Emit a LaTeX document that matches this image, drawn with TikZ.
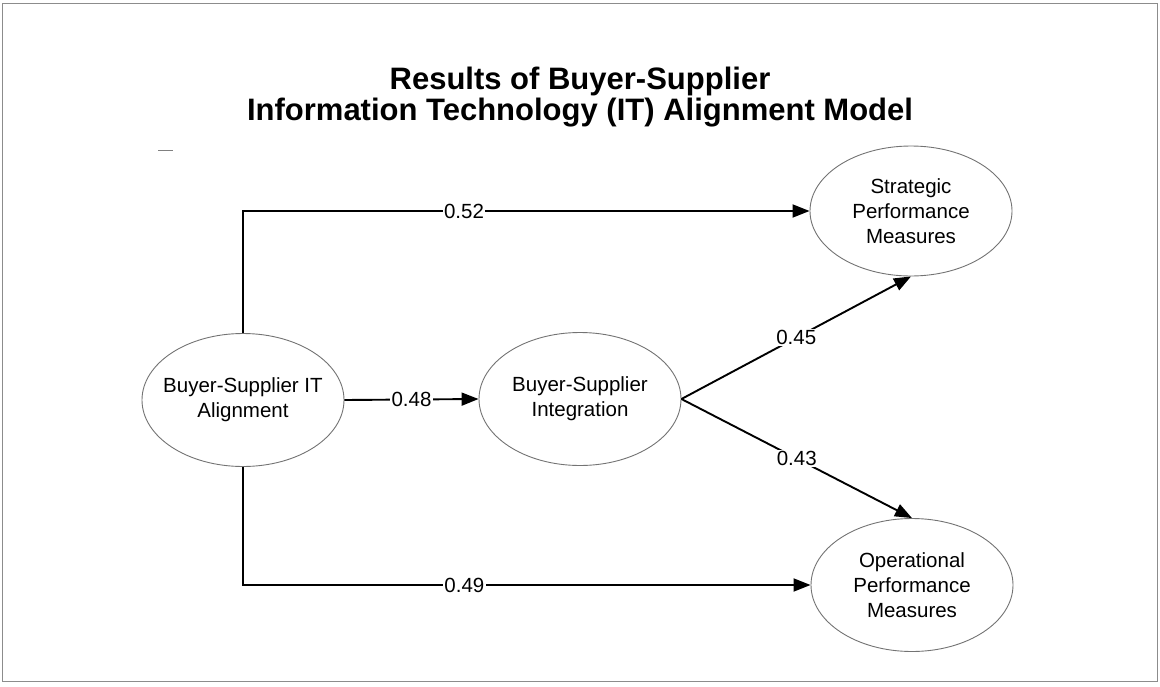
\documentclass[tikz,border=0pt]{standalone}
\usepackage{fontspec}
\setmainfont{Liberation Sans}
\usetikzlibrary{shapes.geometric}
\usetikzlibrary{arrows.meta}

\begin{document}
\begin{tikzpicture}[x=1pt, y=-1pt,
  latent/.style={ellipse, draw=black!55, line width=0.9pt, minimum width=202pt,
    minimum height=133pt, inner xsep=-10pt, inner ysep=0pt, align=center,
    font=\fontsize{20.5}{25}\selectfont},
  path/.style={line width=1.9pt, -{Triangle[length=17pt,width=13pt]}},
  coef/.style={fill=white, inner sep=1.5pt, font=\fontsize{20.5}{25}\selectfont}]

\useasboundingbox (0,0) rectangle (1160,686);
\draw[black!45, line width=1pt] (2,3) rectangle (1157,681);

% heading
\node[align=center, font=\bfseries\fontsize{31}{31}\selectfont] (title) at (580,97)
  {Results of Buyer-Supplier\\Information Technology (IT) Alignment Model};
\draw[black!50, line width=0.8pt] (158,150) -- (173,150);

% constructs
\node[latent] (align) at (243,400) {Buyer-Supplier IT\\Alignment};
\node[latent] (integ) at (580,399) {Buyer-Supplier\\Integration};
\node[latent, minimum height=130pt] (strat) at (911,211) {Strategic\\Performance\\Measures};
\node[latent] (oper) at (912,585) {Operational\\Performance\\Measures};

% paths with coefficients
\draw[path] (align.north) |- node[coef, pos=0.695] {0.52} (strat.west);
\draw[path] (align.south) |- node[coef, pos=0.695] {0.49} (oper.west);
\draw[path] (align.east) -- node[coef] {0.48} (integ.west);
\draw[path] (integ.east) -- node[coef] {0.45} (strat.south);
\draw[path] (integ.east) -- node[coef] {0.43} (oper.north);

\end{tikzpicture}
\end{document}
